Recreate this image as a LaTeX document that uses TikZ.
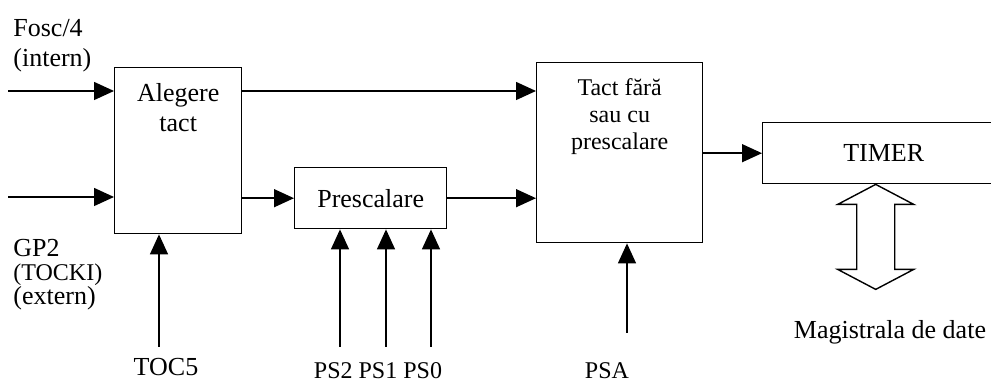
\documentclass[tikz,border=0pt]{standalone}
\usepackage{fontspec}
\setmainfont{Liberation Serif}
\usetikzlibrary{arrows.meta,positioning}
\tikzstyle{block} = [draw, line width=0.7pt, inner sep=0pt, anchor=north west]
\tikzstyle{txt} = [inner sep=0pt, font=\fontsize{13}{15}\selectfont]
\tikzset{
  sig/.style ={draw, line width=0.7pt, -{Triangle[length=10pt,width=9pt]}, shorten >=0pt}
}

\begin{document}
\begin{tikzpicture}[x=0.5pt,y=-0.5pt]
	\useasboundingbox (0,0) rectangle (991,383);
	\clip (0,0) rectangle (991,383);

	% blocks
	\node [block, minimum width=63.5pt, minimum height=83pt] (alegere) at (114,67) {};
	\node [block, txt, minimum width=76pt, minimum height=30.5pt] (presc) at (294,167) {Prescalare};
	\node [block, minimum width=83pt, minimum height=90pt] (tact) at (536,62) {};
	\node [block, txt, minimum width=121pt, minimum height=30.5pt] (timer) at (762,122) {TIMER};
	\node [txt, align=center, below=8pt of alegere.north] (alegtxt) {Alegere\\tact};
	\node [txt, align=center, font=\fontsize{12}{13.5}\selectfont, below=8pt of tact.north] (tacttxt) {Tact fără\\sau cu\\prescalare};

	% clock inputs
	\node [txt, align=left, anchor=north west] (fosc) at (13,19) {Fosc/4\\(intern)};
	\node [txt, align=left, anchor=north west, font=\fontsize{13}{12}\selectfont] (gp) at (13,239) {GP2\\{\fontsize{12}{12}\selectfont (TOCKI)}\\(extern)};
	\coordinate (in1) at (8,91);
	\coordinate (in2) at (8,197);
	\draw [sig] (in1) -- (in1 -| alegere.west);
	\draw [sig] (in2) -- (in2 -| alegere.west);

	% signal path
	\draw [sig] (in1 -| alegere.east) -- (in1 -| tact.west);
	\draw [sig] (presc.west -| alegere.east) -- (presc.west);
	\draw [sig] (presc.east) -- (presc.east -| tact.west);
	\draw [sig] (timer.west -| tact.east) -- (timer.west);

	% control bits
	\node [txt, anchor=north] (toc) at (166,358) {TOC5};
	\coordinate (c5) at (159,347);
	\draw [sig] (c5) -- (c5 |- alegere.south);
	\node [txt, anchor=north, font=\fontsize{12}{14}\selectfont] (ps) at (378,362) {PS2 PS1 PS0};
	\foreach \x in {340,386,431}
		\draw [sig] (\x,347) coordinate (p) -- (p |- presc.south);
	\node [txt, anchor=north, font=\fontsize{12}{14}\selectfont] (psa) at (607,362) {PSA};
	\coordinate (ca) at (627,333);
	\draw [sig] (ca) -- (ca |- tact.south);

	% data bus
	\coordinate (bus) at ([xshift=-4pt]timer.south);
	\draw [line width=0.7pt] (bus) -- ++(38,20) -- ++(-19,0) -- ++(0,65) -- ++(19,0) -- ++(-38,20)
		-- ++(-38,-20) -- ++(19,0) -- ++(0,-65) -- ++(-19,0) -- cycle;
	\node [txt, anchor=north] (magistrala) at (890,320) {Magistrala de date};

\end{tikzpicture}
\end{document}
